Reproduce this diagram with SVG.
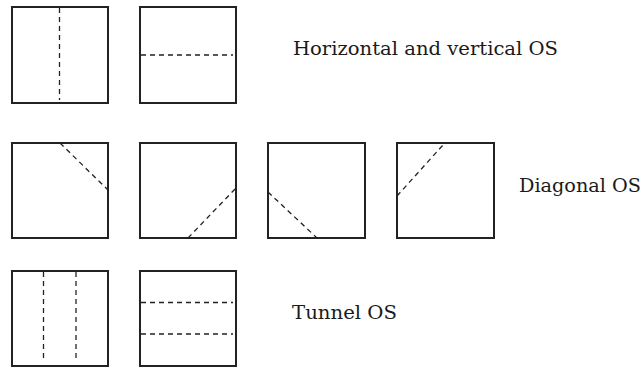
<svg xmlns="http://www.w3.org/2000/svg" width="644" height="367" viewBox="0 0 644 367">
<style>
.box{fill:none;stroke:#222;stroke-width:2}
.cut{fill:none;stroke:#222;stroke-width:1.3;stroke-dasharray:5 4}
.lbl{font-family:"DejaVu Serif","Liberation Serif",serif;font-size:18.5px;fill:#1a1a1a}
</style>
<rect width="644" height="367" fill="#fff"/>
<g id="hv1"><rect class="box" x="12" y="7" width="96" height="96"/></g>
<g id="hv2"><rect class="box" x="140" y="7" width="96" height="96"/></g>
<g id="d1"><rect class="box" x="12" y="143" width="96" height="95"/></g>
<g id="d2"><rect class="box" x="140" y="143" width="96" height="95"/></g>
<g id="d3"><rect class="box" x="268" y="143" width="97" height="95"/></g>
<g id="d4"><rect class="box" x="397" y="143" width="97" height="95"/></g>
<g id="t1"><rect class="box" x="12" y="271" width="96" height="95"/></g>
<g id="t2"><rect class="box" x="140" y="271" width="96" height="95"/></g>
<g id="connectors">
<line class="cut" x1="59.5" y1="8" x2="59.5" y2="100"/>
<line class="cut" x1="141" y1="55" x2="233" y2="55"/>
<line class="cut" x1="60" y1="143" x2="108" y2="190"/>
<line class="cut" x1="188" y1="238" x2="236" y2="188"/>
<line class="cut" x1="268" y1="192" x2="317" y2="238"/>
<line class="cut" x1="397" y1="196" x2="443" y2="145"/>
<line class="cut" x1="43.5" y1="272" x2="43.5" y2="362"/>
<line class="cut" x1="76" y1="272" x2="76" y2="362"/>
<line class="cut" x1="141" y1="302.5" x2="233" y2="302.5"/>
<line class="cut" x1="141" y1="334" x2="233" y2="334"/>
</g>
<text class="lbl" x="293" y="55" textLength="265" lengthAdjust="spacingAndGlyphs">Horizontal and vertical OS</text>
<text class="lbl" x="519" y="192" textLength="122" lengthAdjust="spacingAndGlyphs">Diagonal OS</text>
<text class="lbl" x="292" y="319" textLength="105" lengthAdjust="spacingAndGlyphs">Tunnel OS</text>
</svg>
